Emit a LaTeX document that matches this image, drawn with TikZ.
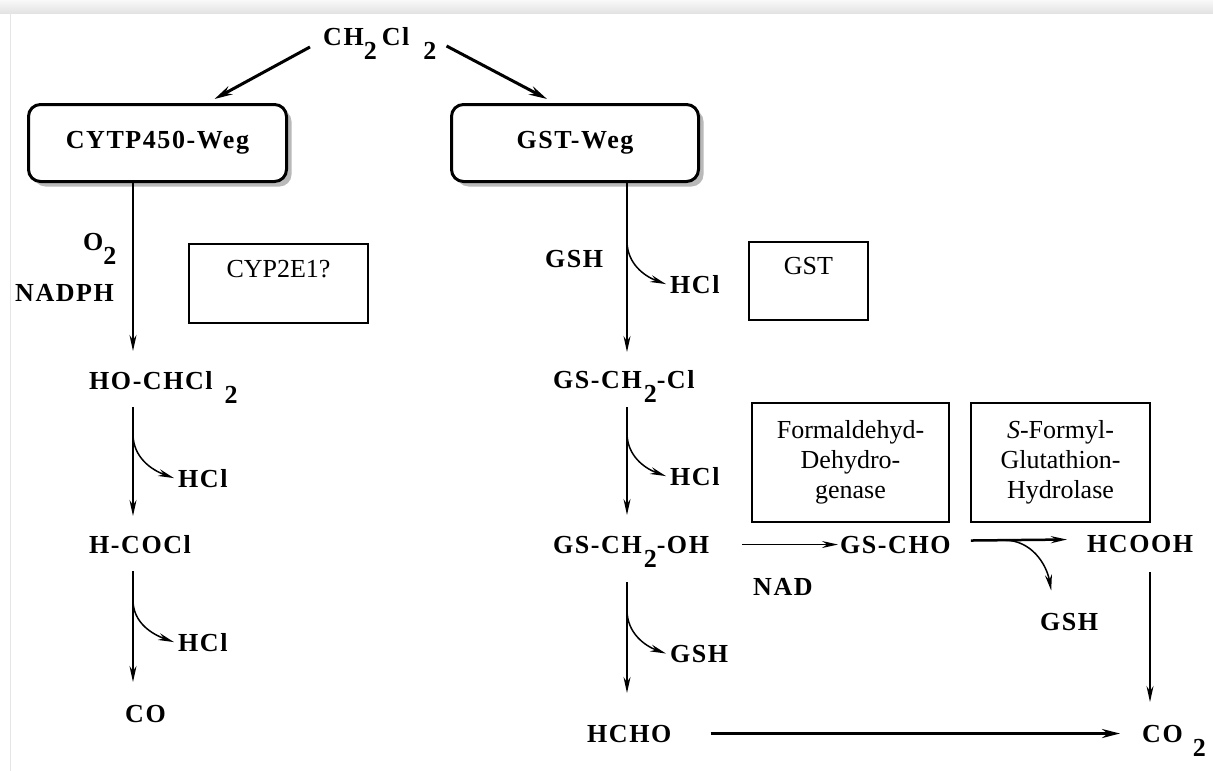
\documentclass[tikz,border=0pt]{standalone}
\usepackage{fontspec}
\setmainfont{Liberation Serif}
\newfontfamily\chemfont[LetterSpace=6]{Liberation Serif}
\usetikzlibrary{positioning,arrows.meta,shadows,calc}
\newcommand{\chsub}[1]{\raisebox{-14pt}{#1}}

\begin{document}
\begin{tikzpicture}[x=1pt,y=-1pt,
    >={Stealth[length=16pt,width=7pt]},
    chem/.style={font=\chemfont\bfseries\fontsize{26}{30}\selectfont,inner sep=0pt,anchor=base west},
    weg/.style={draw,line width=3pt,rounded corners=12pt,fill=white,
      drop shadow={shadow xshift=5pt,shadow yshift=-5pt,fill=black!55},
      minimum height=77pt,font=\chemfont\bfseries\fontsize{26}{30}\selectfont},
    enz/.style={draw,line width=1.5pt,align=center,inner sep=0pt,font=\fontsize{26}{30}\selectfont},
    main/.style={->,line width=1.5pt},
    side/.style={->,line width=1.5pt},
    fat/.style={->,line width=3pt,>={Stealth[length=18pt,width=9pt]}}]
  % Rand
  \useasboundingbox (0,0) rectangle (1213,771);
  \shade[top color=gray!5,bottom color=gray!22] (0,0) rectangle (1213,13);
  \draw[gray!20,line width=1pt] (10,13) -- (10,771);
  \coordinate (lcol) at (133,0); % linke Spalte
  \coordinate (rcol) at (627,0); % rechte Spalte
  \coordinate (ccol) at (1150,0); % HCOOH -> CO2

  % Ausgangsstoff und Wege
  \node[chem] (ch2cl2) at (323,45) {CH\chsub{2}\hspace{5pt}Cl\hspace{14pt}\chsub{2}};
  \node[weg,minimum width=258pt] (cypweg) at (157.5,143) {CYTP450-Weg};
  \node[weg,minimum width=247pt] (gstweg) at (575,143) {GST-Weg};
  \draw[fat] ([xshift=-13pt,yshift=-4pt]ch2cl2.west) -- ([xshift=57pt,yshift=4pt]cypweg.north);
  \draw[fat] ([xshift=10pt,yshift=-3pt]ch2cl2.east) -- ([xshift=-28pt,yshift=4pt]gstweg.north);

  % CYTP450-Weg
  \node[chem] (o2) at (83,250) {O\chsub{2}};
  \node[chem] (nadph) at (15,301) {NADPH};
  \node[enz,minimum width=179pt,minimum height=79pt] (cypenz) at (278.5,283.5) {CYP2E1?\\\mbox{}};
  \node[chem] (hochcl) at (89,389) {HO-CHCl\hspace{12pt}\chsub{2}};
  \node[chem] (hcla) at (178,487) {HCl};
  \node[chem] (hcocl) at (89,553) {H-COCl};
  \node[chem] (hclb) at (178,651) {HCl};
  \node[chem] (co) at (125,722) {CO};
  \draw[main] (cypweg.south -| lcol) -- ([yshift=38pt]lcol |- hochcl.base);
  \draw[main] ([yshift=-18pt]lcol |- hochcl.base) -- ([yshift=37pt]lcol |- hcocl.base);
  \draw[main] ([yshift=-18pt]lcol |- hcocl.base) -- ([yshift=40pt]lcol |- co.base);
  \draw[side] ([yshift=-45pt]lcol |- hochcl.base) to[out=-90,in=160] ([xshift=-4pt]hcla.west);
  \draw[side] ([yshift=-47pt]lcol |- hcocl.base) to[out=-90,in=160] ([xshift=-4pt]hclb.west);

  % GST-Weg
  \node[chem] (gsha) at (545,267) {GSH};
  \node[chem] (hclc) at (670,293) {HCl};
  \node[enz,minimum width=119pt,minimum height=78pt] (gstenz) at (808.5,281) {GST\\\mbox{}};
  \node[chem] (gsch2cl) at (553,388) {GS-CH\hspace{2pt}\chsub{2}-Cl};
  \node[chem] (hcld) at (670,485) {HCl};
  \node[chem] (gsch2oh) at (553,553) {GS-CH\hspace{2pt}\chsub{2}-OH};
  \node[chem] (gshb) at (670,662) {GSH};
  \node[chem] (hcho) at (587,742) {HCHO};
  \draw[main] (gstweg.south -| rcol) -- ([yshift=36pt]rcol |- gsch2cl.base);
  \draw[main] ([yshift=-19pt]rcol |- gsch2cl.base) -- ([yshift=38pt]rcol |- gsch2oh.base);
  \draw[main] ([yshift=-29pt]rcol |- gsch2oh.base) -- ([yshift=49pt]rcol |- hcho.base);
  \draw[side] ([yshift=-58pt]gstweg.south -| rcol) to[out=-90,in=160] ([xshift=-4pt]hclc.west);
  \draw[side] ([yshift=-45pt]rcol |- gsch2cl.base) to[out=-90,in=160] ([xshift=-4pt]hcld.west);
  \draw[side] ([yshift=-57pt]rcol |- gsch2oh.base) to[out=-90,in=160] ([xshift=-4pt]gshb.west);

  % Oxidation zu CO2
  \node[enz,minimum width=197pt,minimum height=119pt] (fdh) at (850.5,462.5) {Formaldehyd-\\Dehydro-\\genase};
  \node[enz,minimum width=179pt,minimum height=119pt] (sfgh) at (1060.5,462.5) {\textit{S}-Formyl-\\Glutathion-\\Hydrolase};
  \node[chem] (nad) at (753,595) {NAD};
  \node[chem] (gscho) at (840,553) {GS-CHO};
  \node[chem] (hcooh) at (1087,552) {HCOOH};
  \node[chem] (gshc) at (1040,630) {GSH};
  \node[chem] (co2) at (1142,742) {CO\hspace{10pt}\chsub{2}};
  \draw[main] ([xshift=33pt]gsch2oh.east |- gscho.west) -- ([xshift=-2pt]gscho.west);
  \draw[->,line width=2.5pt] ([xshift=20pt,yshift=4pt]gscho.east) -- node[pos=0.35,coordinate] (br) {} ([xshift=-20pt,yshift=4pt]hcooh.west);
  \draw[side] (br) to[out=0,in=100] ([xshift=-18pt,yshift=22pt]gshc.north);
  \draw[main] ([yshift=-20pt]ccol |- hcooh.base) -- ([yshift=40pt]ccol |- co2.base);
  \draw[fat] ([xshift=39pt]hcho.east) -- ([xshift=-22pt]hcho.east -| co2.west);
\end{tikzpicture}
\end{document}
